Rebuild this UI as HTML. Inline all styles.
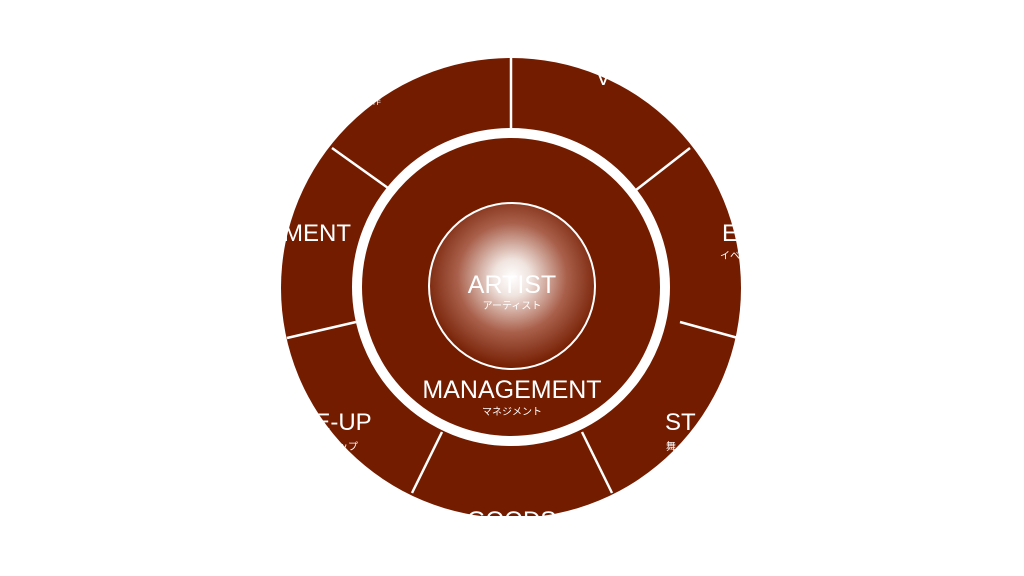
<!DOCTYPE html>
<html><head><meta charset="utf-8"><style>
html,body{margin:0;padding:0;background:#fff;width:1024px;height:576px;overflow:hidden}
svg{display:block}
text{font-family:"Liberation Sans","Noto Sans CJK JP",sans-serif;fill:#fff}
</style></head><body>
<svg width="1024" height="576" viewBox="0 0 1024 576">
<defs>
<radialGradient id="g" cx="0.5" cy="0.45" r="0.55">
<stop offset="0" stop-color="#fff"/>
<stop offset="0.2" stop-color="#f0e4df"/>
<stop offset="0.6" stop-color="#a9604b"/>
<stop offset="1" stop-color="#731c00"/>
</radialGradient>
<clipPath id="c"><rect x="0" y="0" width="1024" height="516"/></clipPath>
</defs>
<g clip-path="url(#c)">
<circle cx="511" cy="288" r="230" fill="#731c00"/>
<g stroke="#fff" stroke-width="2.5">
<line x1="511" y1="58" x2="511" y2="130"/>
<line x1="690" y1="148" x2="636" y2="190"/>
<line x1="738" y1="338" x2="680" y2="322"/>
<line x1="612" y1="493" x2="582" y2="432"/>
<line x1="412" y1="493" x2="442" y2="432"/>
<line x1="287" y1="338" x2="356" y2="322"/>
<line x1="332" y1="148" x2="388" y2="188"/>
</g>
<circle cx="511" cy="287" r="154" fill="#731c00" stroke="#fff" stroke-width="10"/>
<circle cx="512" cy="286" r="83" fill="url(#g)" stroke="#fff" stroke-width="2"/>
<text x="512" y="293" font-size="25" text-anchor="middle">ARTIST</text>
<text x="512" y="309" font-size="10" text-anchor="middle">アーティスト</text>
<text x="512" y="398" font-size="25" text-anchor="middle">MANAGEMENT</text>
<text x="512" y="415" font-size="10" text-anchor="middle">マネジメント</text>
<text x="283" y="241" font-size="24">MENT</text>
<text x="363" y="104" font-size="9">制作</text>
<text x="596" y="85" font-size="22">V</text>
<text x="722" y="241" font-size="24">E</text>
<text x="720" y="259" font-size="10">イベ</text>
<text x="665" y="430" font-size="24">ST</text>
<text x="666" y="450" font-size="10">舞</text>
<text x="297" y="430" font-size="24">NE-UP</text>
<text x="338" y="450" font-size="10">ップ</text>
<text x="467" y="528" font-size="24">GOODS</text>
</g>
</svg>
</body></html>
